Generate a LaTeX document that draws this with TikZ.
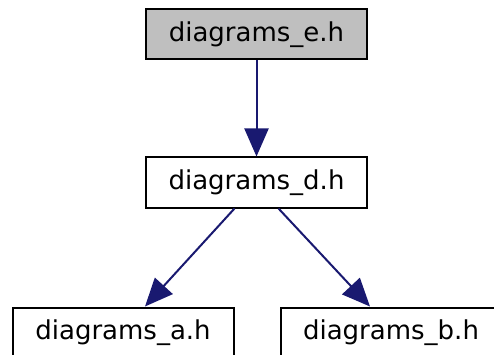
\documentclass[tikz,border=0pt]{standalone}
\usepackage{fontspec}
\setmainfont{DejaVu Sans}
\usetikzlibrary{arrows.meta}
\definecolor{edgeblue}{HTML}{191970}
\definecolor{headgray}{HTML}{BFBFBF}

\begin{document}
\begin{tikzpicture}[x=1pt, y=-1pt,
    filebox/.style={draw=black, line width=2pt, minimum width=221pt, minimum height=50pt, inner sep=0pt, font=\fontsize{26}{30}\selectfont},
    incl/.style={draw=edgeblue, line width=2pt, -{Triangle[length=28pt, width=24pt]}}]
        \useasboundingbox (0,0) rectangle (494,355);

        % top header
        \node[filebox, fill=headgray] (dgE) at (256.5,34.5) {diagrams\_e.h};

        % middle header
        \node[filebox] (dgD) at (256.5,182.5) {diagrams\_d.h};

        % included files
        \node[filebox] (dgA) at (123,332.5) {diagrams\_a.h};
        \node[filebox] (dgB) at (391,332.5) {diagrams\_b.h};

        % include edges
        \draw[incl] (dgE.south) -- (dgD.north);
        \draw[incl] ([xshift=-22pt]dgD.south) -- ([xshift=22pt]dgA.north);
        \draw[incl] ([xshift=22pt]dgD.south) -- ([xshift=-21pt]dgB.north);

    \end{tikzpicture}
\end{document}
